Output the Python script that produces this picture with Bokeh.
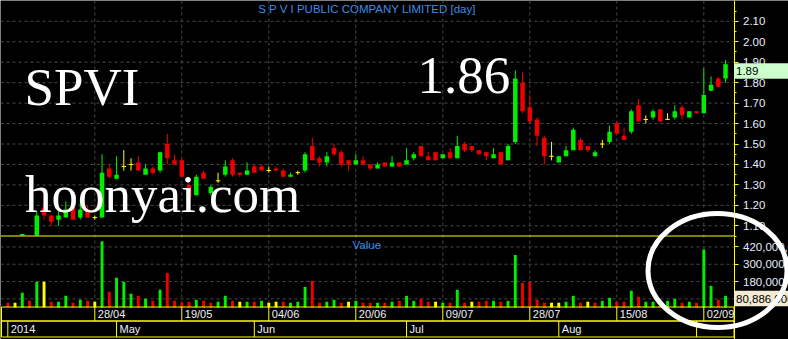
import numpy as np
from bokeh.plotting import figure
from bokeh.models import (Range1d, FixedTicker, Label, LinearAxis, ColumnDataSource)
from bokeh.embed import file_html
from bokeh.resources import INLINE
from bokeh.core.properties import value

# ---------------------------------------------------------------- data
TITLE = "S P V I PUBLIC COMPANY LIMITED [day]"
SYMBOL = "SPVI"
HEADLINE_PRICE = "1.86"
WATERMARK = "hoonyai.com"
VALUE_TITLE = "Value"

opens = [1.04, 1.03, 1.04, 1.04, 1.02, 1.19, 1.15, 1.13, 1.14, 1.19,
         1.14, 1.18, 1.14, 1.14, 1.38, 1.33, 1.39, 1.40, 1.41, 1.35,
         1.38, 1.37, 1.50, 1.42, 1.42, 1.30, 1.25, 1.36, 1.26, 1.32,
         1.35, 1.42, 1.36, 1.35, 1.39, 1.39, 1.37, 1.38, 1.37, 1.34,
         1.36, 1.37, 1.49, 1.43, 1.41, 1.48, 1.46, 1.42, 1.40, 1.42,
         1.40, 1.38, 1.41, 1.39, 1.41, 1.40, 1.43, 1.49, 1.44, 1.46,
         1.43, 1.46, 1.43, 1.50, 1.49, 1.47, 1.46, 1.43, 1.46, 1.42,
         1.51, 1.80, 1.68, 1.62, 1.53, 1.44, 1.41, 1.44, 1.47, 1.52,
         1.49, 1.44, 1.50, 1.51, 1.60, 1.54, 1.56, 1.69, 1.62, 1.63,
         1.67, 1.62, 1.63, 1.68, 1.63, 1.66, 1.65, 1.76, 1.82, 1.82]
highs = [1.04, 1.04, 1.06, 1.04, 1.17, 1.25, 1.15, 1.17, 1.22, 1.20,
         1.23, 1.20, 1.15, 1.45, 1.40, 1.44, 1.47, 1.43, 1.44, 1.40,
         1.39, 1.46, 1.55, 1.45, 1.43, 1.31, 1.35, 1.37, 1.30, 1.36,
         1.42, 1.43, 1.36, 1.41, 1.40, 1.40, 1.39, 1.39, 1.38, 1.36,
         1.37, 1.46, 1.53, 1.44, 1.46, 1.50, 1.47, 1.42, 1.45, 1.44,
         1.40, 1.41, 1.41, 1.44, 1.41, 1.48, 1.46, 1.49, 1.46, 1.46,
         1.45, 1.48, 1.54, 1.51, 1.49, 1.47, 1.46, 1.48, 1.46, 1.50,
         1.86, 1.85, 1.74, 1.63, 1.54, 1.51, 1.44, 1.49, 1.58, 1.53,
         1.49, 1.47, 1.52, 1.59, 1.61, 1.58, 1.67, 1.72, 1.64, 1.67,
         1.67, 1.65, 1.69, 1.69, 1.66, 1.66, 1.87, 1.83, 1.83, 1.91]
lows = [1.02, 1.02, 1.03, 1.02, 1.01, 1.13, 1.10, 1.10, 1.14, 1.13,
        1.13, 1.14, 1.13, 1.14, 1.33, 1.33, 1.37, 1.37, 1.37, 1.35,
        1.35, 1.36, 1.40, 1.40, 1.34, 1.22, 1.25, 1.33, 1.25, 1.31,
        1.34, 1.34, 1.34, 1.35, 1.36, 1.37, 1.36, 1.37, 1.34, 1.34,
        1.35, 1.36, 1.42, 1.39, 1.39, 1.44, 1.39, 1.37, 1.40, 1.40,
        1.37, 1.38, 1.39, 1.39, 1.39, 1.40, 1.42, 1.44, 1.42, 1.42,
        1.43, 1.43, 1.43, 1.46, 1.46, 1.45, 1.42, 1.43, 1.40, 1.42,
        1.50, 1.65, 1.60, 1.49, 1.40, 1.42, 1.41, 1.44, 1.47, 1.47,
        1.46, 1.44, 1.48, 1.50, 1.55, 1.52, 1.55, 1.61, 1.60, 1.62,
        1.61, 1.62, 1.62, 1.62, 1.63, 1.65, 1.65, 1.76, 1.78, 1.80]
closes = [1.03, 1.03, 1.06, 1.03, 1.15, 1.15, 1.12, 1.15, 1.18, 1.13,
          1.18, 1.14, 1.14, 1.36, 1.34, 1.35, 1.39, 1.40, 1.37, 1.38,
          1.36, 1.46, 1.43, 1.40, 1.34, 1.24, 1.34, 1.33, 1.29, 1.32,
          1.39, 1.35, 1.35, 1.37, 1.36, 1.37, 1.37, 1.37, 1.34, 1.35,
          1.36, 1.45, 1.42, 1.41, 1.44, 1.45, 1.40, 1.40, 1.42, 1.40,
          1.38, 1.40, 1.39, 1.41, 1.39, 1.42, 1.45, 1.44, 1.42, 1.42,
          1.45, 1.43, 1.49, 1.47, 1.47, 1.45, 1.44, 1.45, 1.40, 1.49,
          1.82, 1.66, 1.61, 1.54, 1.44, 1.44, 1.44, 1.47, 1.57, 1.47,
          1.47, 1.46, 1.50, 1.56, 1.55, 1.52, 1.66, 1.61, 1.62, 1.66,
          1.61, 1.62, 1.66, 1.64, 1.66, 1.65, 1.74, 1.79, 1.78, 1.89]
# traded value (baht)
values = [33_000_000, 33_000_000, 102_000_000, 46_000_000, 178_000_000,
          178_000_000, 40_000_000, 40_000_000, 81_000_000, 33_000_000,
          53_000_000, 46_000_000, 40_000_000, 460_000_000, 109_000_000,
          206_000_000, 178_000_000, 95_000_000, 81_000_000, 60_000_000,
          46_000_000, 123_000_000, 240_000_000, 46_000_000, 33_000_000,
          40_000_000, 53_000_000, 46_000_000, 33_000_000, 40_000_000,
          81_000_000, 46_000_000, 40_000_000, 40_000_000, 40_000_000,
          46_000_000, 33_000_000, 40_000_000, 40_000_000, 33_000_000,
          40_000_000, 143_000_000, 185_000_000, 33_000_000, 40_000_000,
          53_000_000, 33_000_000, 40_000_000, 46_000_000, 33_000_000,
          33_000_000, 33_000_000, 33_000_000, 40_000_000, 46_000_000,
          81_000_000, 46_000_000, 60_000_000, 40_000_000, 40_000_000,
          33_000_000, 33_000_000, 123_000_000, 33_000_000, 40_000_000,
          40_000_000, 46_000_000, 46_000_000, 40_000_000, 46_000_000,
          365_000_000, 171_000_000, 178_000_000, 53_000_000, 33_000_000,
          33_000_000, 33_000_000, 40_000_000, 81_000_000, 33_000_000,
          40_000_000, 33_000_000, 46_000_000, 67_000_000, 40_000_000,
          40_000_000, 116_000_000, 75_000_000, 40_000_000, 40_000_000,
          40_000_000, 46_000_000, 60_000_000, 33_000_000, 40_000_000,
          33_000_000, 402_000_000, 150_000_000, 53_000_000, 80_886_000]

date_tick_idx = [12, 24, 36, 48, 60, 72, 84, 96]
date_tick_labels = ["28/04", "19/05", "04/06", "20/06", "09/07", "28/07", "15/08", "02/09"]
month_start_idx = [0, 15, 34, 55, 76, 95]
month_labels = ["2014", "May", "Jun", "Jul", "Aug", ""]
price_ticks = [1.10, 1.20, 1.30, 1.40, 1.50, 1.60, 1.70, 1.80, 1.90, 2.00, 2.10]
price_minor_ticks = [1.05, 1.15, 1.25, 1.35, 1.45, 1.55, 1.65, 1.75, 1.85, 1.95, 2.05, 2.15]
value_ticks = [60_000_000, 180_000_000, 300_000_000, 420_000_000]
value_tick_labels = ["", "180,000,000", "300,000,000", "420,000,000"]

# ---------------------------------------------------------------- layout / style
W, H = 788, 339
AXIS_PX = 733.5                          # x of the right axis line
X0_PX, X_STEP_PX = 7.3, 7.25             # first session centre, px per session
PRICE_REF, PRICE_REF_Y, PX_PER_PRICE = 2.10, 20.8, 204.5
VOL_ZERO_Y, VOL_PER_PX = 307.0, 6_936_000.0
PANEL_SEP_Y = 235.5
ROW1_TOP, ROW1_BOT, ROW2_BOT = 306.5, 320.5, 336.5
TAG_H = 15.5

GREEN, RED, YELLOW = "#00ee00", "#ee0000", "#ffff00"
GRID = "#4a4a4a"
BLUE = "#3a8ee6"
AXIS_TXT = "#e6ecff"
SANS = "Liberation Sans"
SERIF = "Liberation Serif"

def px_to_x(px):
    return (px - X0_PX) / X_STEP_PX

x_range = Range1d(px_to_x(0), px_to_x(W))
AXIS_X = px_to_x(AXIS_PX)
price_range = Range1d(PRICE_REF - (H - PRICE_REF_Y) / PX_PER_PRICE,
                      PRICE_REF + PRICE_REF_Y / PX_PER_PRICE)
vol_range = Range1d(-(H - VOL_ZERO_Y) * VOL_PER_PX, VOL_ZERO_Y * VOL_PER_PX)
px_range = Range1d(H, 0)   # screen-like rows (0 = top)

p = figure(width=W, height=H, x_range=x_range, y_range=price_range,
           x_axis_location=None, y_axis_location=None,
           output_backend="svg", toolbar_location=None, min_border=0,
           background_fill_color="black", border_fill_color="black",
           outline_line_color=None)
p.extra_y_ranges = {"vol": vol_range, "px": px_range}
for g in list(p.center):
    g.visible = False

# ---------------------------------------------------------------- grid lines
p.segment(x0=px_to_x(0), x1=AXIS_X, y0=price_ticks, y1=price_ticks,
          line_color=GRID, line_dash="3 3", line_width=1)
p.segment(x0=px_to_x(0), x1=AXIS_X, y0=value_ticks, y1=value_ticks, y_range_name="vol",
          line_color=GRID, line_dash="3 3", line_width=1)
p.segment(x0=date_tick_idx, x1=date_tick_idx, y0=0, y1=ROW1_TOP, y_range_name="px",
          line_color=GRID, line_dash="3 3", line_width=1)

# ---------------------------------------------------------------- axes (drawn at the frame's right edge)
axis_style = dict(fixed_location=AXIS_X, axis_line_color=YELLOW,
                  major_tick_line_color=YELLOW, minor_tick_line_color=YELLOW,
                  major_tick_in=0, major_tick_out=4, minor_tick_in=0, minor_tick_out=2,
                  major_label_standoff=5, major_label_text_font=SANS,
                  major_label_text_font_size="11.5px", major_label_text_color=AXIS_TXT)
price_axis = LinearAxis(ticker=FixedTicker(ticks=price_ticks, minor_ticks=price_minor_ticks),
                        major_label_overrides={t: f"{t:.2f}" for t in price_ticks},
                        **axis_style)
p.add_layout(price_axis, "right")
vol_axis = LinearAxis(y_range_name="vol", ticker=FixedTicker(ticks=value_ticks, minor_ticks=[]),
                      major_label_overrides=dict(zip(value_ticks, value_tick_labels)),
                      **axis_style)
p.add_layout(vol_axis, "right")

# ---------------------------------------------------------------- candles
o = np.array(opens); h = np.array(highs); l = np.array(lows); c = np.array(closes)
idx = np.arange(len(c))
up = c > o + 1e-9
down = c < o - 1e-9
flat = ~(up | down)
ccol = np.where(up, GREEN, np.where(down, RED, YELLOW))

floor = PRICE_REF - (PANEL_SEP_Y - 0.5 - PRICE_REF_Y) / PX_PER_PRICE  # price-panel bottom
btop = np.maximum(o, c)
bbot = np.minimum(o, c)

vis = h > floor
wick = ColumnDataSource(dict(x=idx[vis], top=h[vis], bot=np.maximum(l, floor)[vis], col=ccol[vis]))
p.segment(x0="x", x1="x", y0="bot", y1="top", line_color="col", line_width=1, source=wick)

bm = (~flat) & (btop > floor)
body = ColumnDataSource(dict(x=idx[bm], top=btop[bm], bot=np.maximum(bbot, floor)[bm], col=ccol[bm]))
p.vbar(x="x", top="top", bottom="bot", width=0.62, fill_color="col", line_color=None, source=body)

dm = flat & (c > floor)
doji = ColumnDataSource(dict(x0=idx[dm] - 0.31, x1=idx[dm] + 0.31, y=c[dm]))
p.segment(x0="x0", x1="x1", y0="y", y1="y", line_color=YELLOW, line_width=1, source=doji)

# ---------------------------------------------------------------- value bars
prev = np.concatenate([[o[0]], c[:-1]])
vcol = np.where(c > prev + 1e-9, GREEN, np.where(c < prev - 1e-9, RED, YELLOW))
vsrc = ColumnDataSource(dict(x=idx, top=np.array(values), col=vcol))
p.vbar(x="x", top="top", bottom=0, width=0.4, fill_color="col", line_color=None,
       source=vsrc, y_range_name="vol")

# ---------------------------------------------------------------- panel frames / date rows
p.segment(x0=px_to_x(0), x1=AXIS_X, y0=PANEL_SEP_Y, y1=PANEL_SEP_Y, y_range_name="px",
          line_color=YELLOW, line_width=1)
row_left = px_to_x(1.0)
p.quad(left=[row_left, row_left], right=[AXIS_X, AXIS_X],
       top=[ROW1_TOP, ROW1_BOT], bottom=[ROW1_BOT, ROW2_BOT], y_range_name="px",
       fill_color=None, line_color=YELLOW, line_width=1)
p.segment(x0=date_tick_idx, x1=date_tick_idx, y0=ROW1_TOP, y1=ROW1_BOT, y_range_name="px",
          line_color=YELLOW, line_width=1)
p.segment(x0=month_start_idx, x1=month_start_idx, y0=ROW1_BOT, y1=ROW2_BOT, y_range_name="px",
          line_color=YELLOW, line_width=1)
p.text(x=date_tick_idx, y=(ROW1_TOP + ROW1_BOT) / 2, text=date_tick_labels, y_range_name="px",
       x_offset=3, text_align="left", text_baseline="middle",
       text_font=value(SANS), text_font_size="11px", text_color="#f0f0f0")
p.text(x=month_start_idx, y=(ROW1_BOT + ROW2_BOT) / 2, text=month_labels, y_range_name="px",
       x_offset=3, text_align="left", text_baseline="middle",
       text_font=value(SANS), text_font_size="11px", text_color="#f0f0f0")

# ---------------------------------------------------------------- texts
p.add_layout(Label(x=366.5, y=8, x_units="screen", y_range_name="px", text=TITLE,
                   text_align="center", text_baseline="middle", text_font=SANS,
                   text_font_size="11.5px", text_color=BLUE))
p.add_layout(Label(x=352, y=244, x_units="screen", y_range_name="px", text=VALUE_TITLE,
                   text_align="left", text_baseline="middle", text_font=SANS,
                   text_font_size="11.5px", text_color=BLUE))
for txt, lx, ly in [(SYMBOL, 24, 86), (HEADLINE_PRICE, 417, 75), (WATERMARK, 24.5, 193)]:
    p.add_layout(Label(x=lx, y=ly, x_units="screen", y_range_name="px", text=txt,
                       text_align="left", text_baseline="alphabetic", text_font=SERIF,
                       text_font_size="53px", text_color="white"))

# ---------------------------------------------------------------- last-price / last-value tags
p_top = closes[-1] + 1.0 / PX_PER_PRICE
p_bot = p_top - TAG_H / PX_PER_PRICE
p.quad(left=[AXIS_X], right=[x_range.end], top=[p_top], bottom=[p_bot],
       fill_color="#ccffcc", line_color=None, level="overlay")
p.text(x=[AXIS_X], y=[(p_top + p_bot) / 2], text=[f"{closes[-1]:.2f}"], x_offset=2,
       text_align="left", text_baseline="middle", text_font=value(SANS),
       text_font_size="11.5px", text_color="black", level="overlay")
v_top = values[-1] + 5.0 * VOL_PER_PX
v_bot = v_top - TAG_H * VOL_PER_PX
p.quad(left=[AXIS_X], right=[x_range.end], top=[v_top], bottom=[v_bot], y_range_name="vol",
       fill_color="#f3ead2", line_color=None, level="overlay")
p.text(x=[AXIS_X], y=[(v_top + v_bot) / 2], text=[f"{values[-1]:,}"], x_offset=2,
       y_range_name="vol", text_align="left", text_baseline="middle", text_font=value(SANS),
       text_font_size="11.5px", text_color="black", level="overlay")

# ---------------------------------------------------------------- highlight ellipse
E_CX, E_CY, E_W, E_H = 717.0, 270.0, 139.0, 114.0   # px
p.ellipse(x=[px_to_x(E_CX)], y=[E_CY], width=E_W, height=E_H,
          width_units="screen", height_units="screen", y_range_name="px",
          fill_color=None, line_color="white", line_width=5, level="overlay")

open("out.html", "w").write(file_html(p, INLINE))
